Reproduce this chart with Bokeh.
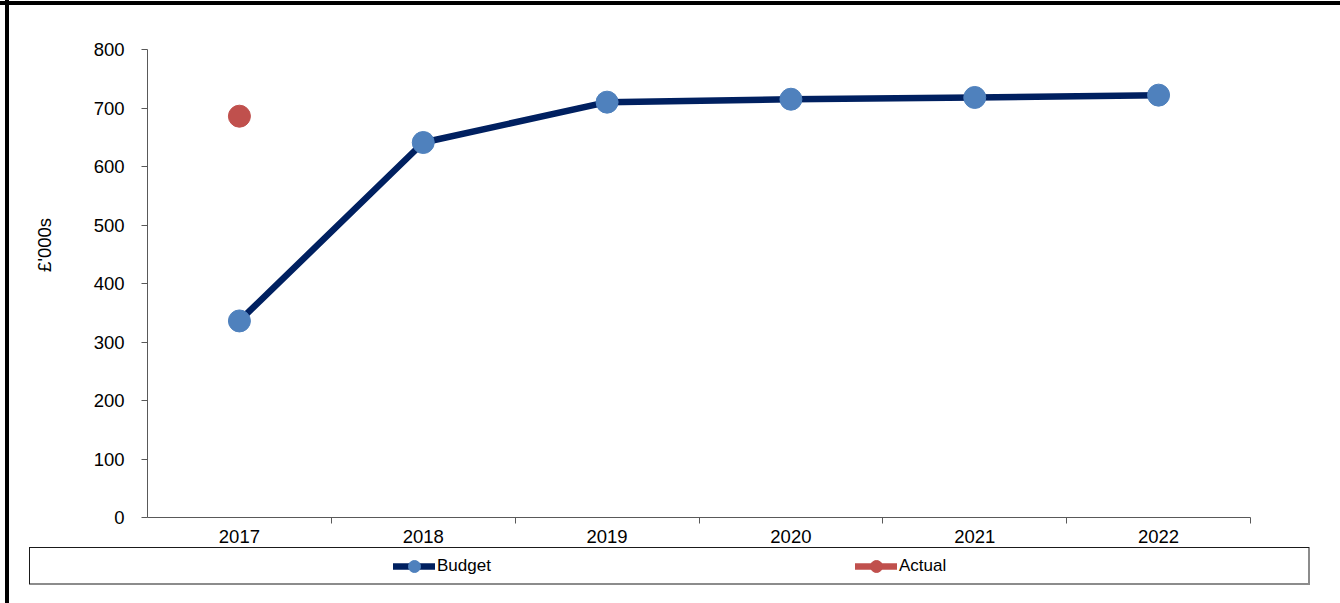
from bokeh.plotting import figure
from bokeh.layouts import column
from bokeh.models import FixedTicker, Legend, LegendItem, Range1d
from bokeh.embed import file_html
from bokeh.resources import INLINE

# ---- data ----
years = ["2017", "2018", "2019", "2020", "2021", "2022"]
budget = [336, 641, 710, 715, 718, 722]
actual = [686, None, None, None, None, None]
y_ticks = [0, 100, 200, 300, 400, 500, 600, 700, 800]
y_label = "£'000s"
series_names = ["Budget", "Actual"]

FONT = "Liberation Sans"
LINE_C = "#002060"
BUD_C = "#4F81BD"
ACT_C = "#C0504D"
AXIS_C = "#595959"

xs = [i + 0.5 for i in range(len(years))]
act = [float("nan") if v is None else v for v in actual]
NAN = float("nan")


def css_bg(layers):
    return {
        "background-color": "white",
        "background-image": ", ".join(f"linear-gradient({c},{c})" for c, _, _ in layers),
        "background-position": ", ".join(pos for _, pos, _ in layers),
        "background-size": ", ".join(sz for _, _, sz in layers),
        "background-repeat": "no-repeat",
    }


# ---------------- main chart ----------------
p = figure(width=1340, height=545, output_backend="svg", toolbar_location=None,
           x_range=Range1d(0, len(years)), y_range=Range1d(0, 800),
           min_border_left=147, min_border_right=90, min_border_top=49,
           min_border_bottom=27,
           styles=css_bg([("#000", "0px 1px", "100% 4px"),
                          ("#000", "5px 0px", "4px 100%")]))
p.outline_line_color = None
p.xgrid.grid_line_color = None
p.ygrid.grid_line_color = None
p.background_fill_color = "white"
p.border_fill_color = None

p.line(xs, budget, line_color=LINE_C, line_width=6.5, line_join="round")
p.scatter(xs, budget, size=22, fill_color=BUD_C, line_color=BUD_C)
p.scatter(xs, act, size=22, fill_color=ACT_C, line_color=ACT_C)

# x axis: labels at category centres, tick marks at category boundaries
xa = p.xaxis[0]
xa.ticker = FixedTicker(ticks=xs, minor_ticks=list(range(1, len(years) + 1)))
xa.major_label_overrides = {x: y for x, y in zip(xs, years)}
xa.major_tick_out = 0
xa.major_tick_in = 0
xa.minor_tick_out = 6
xa.minor_tick_in = 0
xa.minor_tick_line_color = AXIS_C
xa.axis_line_color = AXIS_C
xa.major_label_standoff = 6
xa.major_label_text_font = FONT
xa.major_label_text_font_size = "18.5px"
xa.major_label_text_color = "black"

# y axis
ya = p.yaxis[0]
ya.ticker = FixedTicker(ticks=y_ticks)
ya.major_tick_out = 6
ya.major_tick_in = 0
ya.minor_tick_line_color = None
ya.major_tick_line_color = AXIS_C
ya.axis_line_color = AXIS_C
ya.major_label_standoff = 17
ya.major_label_text_font = FONT
ya.major_label_text_font_size = "18.5px"
ya.major_label_text_color = "black"
ya.axis_label = "\u00a0" * 15 + y_label
ya.axis_label_text_font = FONT
ya.axis_label_text_font_size = "18.5px"
ya.axis_label_text_font_style = "normal"
ya.axis_label_text_color = "black"
ya.axis_label_standoff = 36

# ---------------- legend strip ----------------
q = figure(width=1340, height=58, output_backend="svg", toolbar_location=None,
           x_range=Range1d(0, 1), y_range=Range1d(0, 1),
           x_axis_location=None, y_axis_location=None,
           min_border_left=29, min_border_right=31, min_border_top=2,
           min_border_bottom=19,
           styles=css_bg([("#000", "5px 0px", "4px 100%"),
                          ("#1a1a1a", "29px 2px", "1280px 1px"),
                          ("#1a1a1a", "29px 2px", "1px 37px"),
                          ("#8c8c8c", "29px 38px", "1281px 2px"),
                          ("#8c8c8c", "1308px 2px", "2px 38px")]))
q.outline_line_color = None
q.xgrid.grid_line_color = None
q.ygrid.grid_line_color = None
q.background_fill_color = None
q.border_fill_color = None

# legend-only renderers (no visible data points)
lb = q.line([NAN], [NAN], line_color=LINE_C, line_width=6.5, line_cap="round")
sb = q.scatter([NAN], [NAN], size=22, fill_color=BUD_C, line_color=BUD_C)
la = q.line([NAN], [NAN], line_color=ACT_C, line_width=6.5, line_cap="round")
sa = q.scatter([NAN], [NAN], size=22, fill_color=ACT_C, line_color=ACT_C)

legend = Legend(items=[LegendItem(label=series_names[0], renderers=[lb, sb]),
                       LegendItem(label=series_names[1], renderers=[la, sa])],
                orientation="horizontal", location=(246, 3),
                padding=0, margin=0, spacing=348,
                border_line_color=None, background_fill_alpha=0,
                glyph_width=42, glyph_height=30, label_standoff=2, label_width=70,
                label_text_font=FONT, label_text_font_size="17px",
                label_text_color="black")
q.add_layout(legend, "center")

layout = column(p, q, spacing=0)
open("out.html", "w").write(file_html(layout, INLINE))
